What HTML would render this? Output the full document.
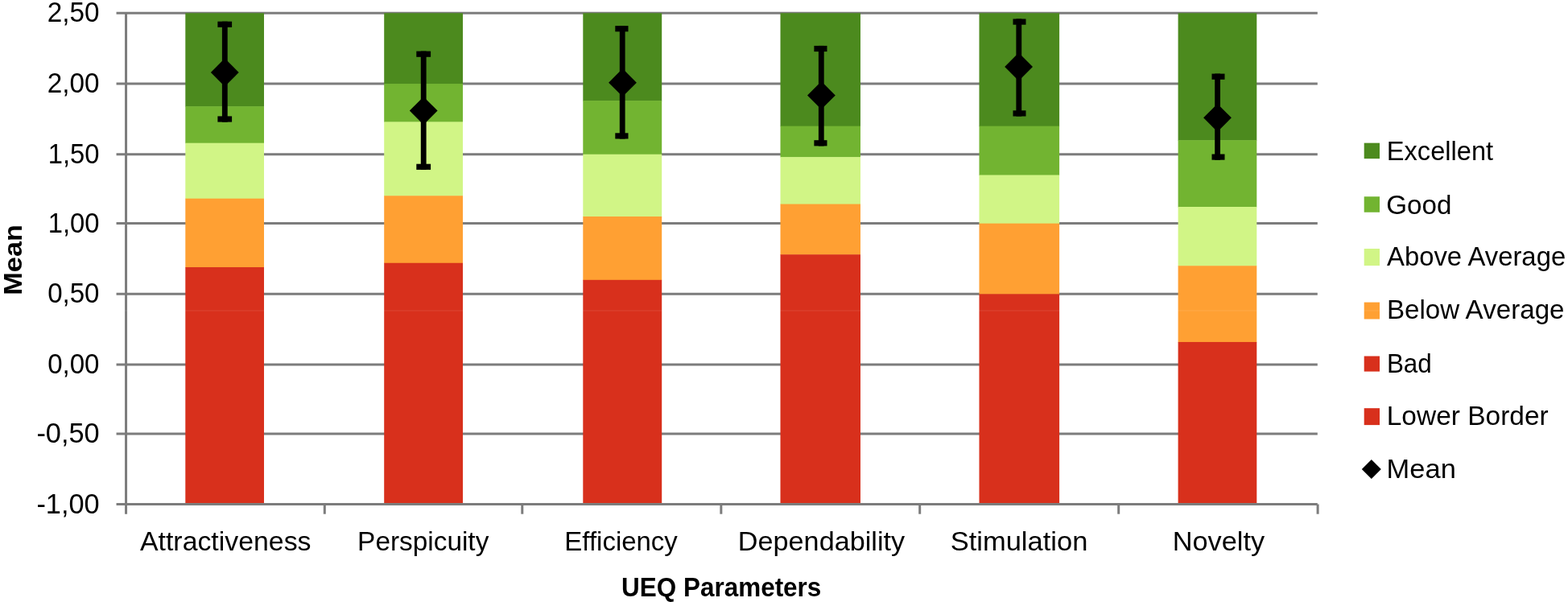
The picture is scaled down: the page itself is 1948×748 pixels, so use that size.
<!DOCTYPE html>
<html lang="en">
<head>
<meta charset="utf-8">
<title>UEQ Benchmark</title>
<style>
html,body{margin:0;padding:0;background:#fff;}
body{width:1948px;height:748px;overflow:hidden;}
svg{display:block;}
text{font-family:"Liberation Sans",sans-serif;font-size:33.0px;fill:#000;}
.b{font-weight:bold;}
.d{font-size:34.3px;}
.r{font-size:32px;}
</style>
</head>
<body>
<svg width="1948" height="748" viewBox="0 0 1948 748">
<rect x="0" y="0" width="1948" height="748" fill="#fff"/>
<g stroke="#7c7c7c" stroke-width="3.0" fill="none">
<line x1="144.55" y1="16.26" x2="1636.80" y2="16.26"/>
<line x1="144.55" y1="104.06" x2="1636.80" y2="104.06"/>
<line x1="144.55" y1="191.70" x2="1636.80" y2="191.70"/>
<line x1="144.55" y1="277.62" x2="1636.80" y2="277.62"/>
<line x1="144.55" y1="365.36" x2="1636.80" y2="365.36"/>
<line x1="144.55" y1="453.00" x2="1636.80" y2="453.00"/>
<line x1="144.55" y1="538.88" x2="1636.80" y2="538.88"/>
<line x1="144.55" y1="626.50" x2="1636.80" y2="626.50"/>
<line x1="156.55" y1="16.26" x2="156.55" y2="638.70"/>
<line x1="403.30" y1="626.50" x2="403.30" y2="638.70"/>
<line x1="648.80" y1="626.50" x2="648.80" y2="638.70"/>
<line x1="895.85" y1="626.50" x2="895.85" y2="638.70"/>
<line x1="1142.70" y1="626.50" x2="1142.70" y2="638.70"/>
<line x1="1389.70" y1="626.50" x2="1389.70" y2="638.70"/>
<line x1="1637.10" y1="626.50" x2="1637.10" y2="638.70"/>
</g>
<g>
<rect x="230.30" y="16.26" width="97.70" height="116.34" fill="#4C8A1E"/>
<rect x="230.30" y="132.10" width="97.70" height="46.07" fill="#72B431"/>
<rect x="230.30" y="177.68" width="97.70" height="69.51" fill="#D1F586"/>
<rect x="230.30" y="246.69" width="97.70" height="85.83" fill="#FFA033"/>
<rect x="230.30" y="332.02" width="97.70" height="292.98" fill="#D8301C"/>
<rect x="477.20" y="16.26" width="97.80" height="88.30" fill="#4C8A1E"/>
<rect x="477.20" y="104.06" width="97.80" height="47.83" fill="#72B431"/>
<rect x="477.20" y="151.39" width="97.80" height="92.37" fill="#D1F586"/>
<rect x="477.20" y="243.25" width="97.80" height="84.00" fill="#FFA033"/>
<rect x="477.20" y="326.75" width="97.80" height="298.25" fill="#D8301C"/>
<rect x="724.30" y="16.26" width="97.90" height="109.33" fill="#4C8A1E"/>
<rect x="724.30" y="125.09" width="97.90" height="67.11" fill="#72B431"/>
<rect x="724.30" y="191.70" width="97.90" height="77.83" fill="#D1F586"/>
<rect x="724.30" y="269.03" width="97.90" height="79.28" fill="#FFA033"/>
<rect x="724.30" y="347.81" width="97.90" height="277.19" fill="#D8301C"/>
<rect x="969.50" y="16.26" width="99.50" height="140.88" fill="#4C8A1E"/>
<rect x="969.50" y="156.64" width="99.50" height="38.99" fill="#72B431"/>
<rect x="969.50" y="195.14" width="99.50" height="58.93" fill="#D1F586"/>
<rect x="969.50" y="253.56" width="99.50" height="63.16" fill="#FFA033"/>
<rect x="969.50" y="316.23" width="99.50" height="308.77" fill="#D8301C"/>
<rect x="1216.50" y="16.26" width="99.60" height="140.88" fill="#4C8A1E"/>
<rect x="1216.50" y="156.64" width="99.60" height="61.33" fill="#72B431"/>
<rect x="1216.50" y="217.48" width="99.60" height="60.64" fill="#D1F586"/>
<rect x="1216.50" y="277.62" width="99.60" height="88.24" fill="#FFA033"/>
<rect x="1216.50" y="365.36" width="99.60" height="259.64" fill="#D8301C"/>
<rect x="1463.60" y="16.26" width="97.70" height="158.41" fill="#4C8A1E"/>
<rect x="1463.60" y="174.17" width="97.70" height="83.33" fill="#72B431"/>
<rect x="1463.60" y="257.00" width="97.70" height="73.76" fill="#D1F586"/>
<rect x="1463.60" y="330.26" width="97.70" height="95.19" fill="#FFA033"/>
<rect x="1463.60" y="424.96" width="97.70" height="200.04" fill="#D8301C"/>
</g>
<g fill="#000">
<rect x="275.90" y="26.70" width="6.80" height="124.90"/><rect x="270.40" y="26.70" width="17.70" height="7.2"/><rect x="270.40" y="144.40" width="17.70" height="7.2"/><polygon points="261.90,90.00 279.30,72.60 296.70,90.00 279.30,107.40"/>
<rect x="522.80" y="63.60" width="6.80" height="147.30"/><rect x="517.30" y="63.60" width="17.80" height="7.2"/><rect x="517.30" y="203.70" width="17.80" height="7.2"/><polygon points="508.80,137.60 526.20,120.20 543.60,137.60 526.20,155.00"/>
<rect x="769.80" y="32.10" width="6.80" height="140.40"/><rect x="764.30" y="32.10" width="16.20" height="7.2"/><rect x="764.30" y="165.30" width="16.20" height="7.2"/><polygon points="756.10,102.70 773.50,85.30 790.90,102.70 773.50,120.10"/>
<rect x="1016.90" y="56.90" width="6.80" height="124.50"/><rect x="1011.40" y="56.90" width="16.10" height="7.2"/><rect x="1011.40" y="174.20" width="16.10" height="7.2"/><polygon points="1003.00,118.40 1020.40,101.00 1037.80,118.40 1020.40,135.80"/>
<rect x="1262.40" y="23.50" width="6.80" height="121.00"/><rect x="1258.50" y="23.50" width="16.00" height="7.2"/><rect x="1258.50" y="137.30" width="16.00" height="7.2"/><polygon points="1248.20,83.00 1265.60,65.60 1283.00,83.00 1265.60,100.40"/>
<rect x="1509.20" y="91.60" width="6.80" height="107.10"/><rect x="1505.50" y="91.60" width="16.00" height="7.2"/><rect x="1505.50" y="191.50" width="16.00" height="7.2"/><polygon points="1495.10,146.30 1512.50,128.90 1529.90,146.30 1512.50,163.70"/>
</g>
<text x="58.84" y="27.36" textLength="64.67" lengthAdjust="spacingAndGlyphs" class="d">2,50</text>
<text x="58.84" y="115.16" textLength="64.67" lengthAdjust="spacingAndGlyphs" class="d">2,00</text>
<text x="59.78" y="202.80" textLength="63.71" lengthAdjust="spacingAndGlyphs" class="d">1,50</text>
<text x="59.78" y="288.72" textLength="63.71" lengthAdjust="spacingAndGlyphs" class="d">1,00</text>
<text x="59.18" y="376.46" textLength="64.33" lengthAdjust="spacingAndGlyphs" class="d">0,50</text>
<text x="59.18" y="464.10" textLength="64.33" lengthAdjust="spacingAndGlyphs" class="d">0,00</text>
<text x="45.43" y="549.98" textLength="78.22" lengthAdjust="spacingAndGlyphs" class="d">-0,50</text>
<text x="45.43" y="637.60" textLength="78.22" lengthAdjust="spacingAndGlyphs" class="d">-1,00</text>
<text x="174.00" y="684.40" textLength="212.46" lengthAdjust="spacingAndGlyphs">Attractiveness</text>
<text x="444.13" y="684.40" textLength="163.19" lengthAdjust="spacingAndGlyphs">Perspicuity</text>
<text x="701.36" y="684.40" textLength="140.48" lengthAdjust="spacingAndGlyphs">Efficiency</text>
<text x="916.86" y="684.40" textLength="207.23" lengthAdjust="spacingAndGlyphs">Dependability</text>
<text x="1180.67" y="684.40" textLength="170.73" lengthAdjust="spacingAndGlyphs">Stimulation</text>
<text x="1456.76" y="684.40" textLength="114.30" lengthAdjust="spacingAndGlyphs">Novelty</text>
<text x="772.11" y="740.60" textLength="248.24" lengthAdjust="spacingAndGlyphs" class="b">UEQ Parameters</text>
<text class="b r" transform="translate(26.7,366.70) rotate(-90)" x="0" y="0" textLength="87.67" lengthAdjust="spacingAndGlyphs">Mean</text>
<rect x="1694.7" y="177.65" width="19.3" height="19.50" fill="#4C8A1E"/><text x="1722.79" y="198.80" textLength="132.36" lengthAdjust="spacingAndGlyphs">Excellent</text>
<rect x="1694.7" y="244.25" width="19.3" height="19.50" fill="#72B431"/><text x="1722.24" y="265.70" textLength="81.16" lengthAdjust="spacingAndGlyphs">Good</text>
<rect x="1694.7" y="309.00" width="19.3" height="21.10" fill="#D1F586"/><text x="1723.00" y="330.10" textLength="222.17" lengthAdjust="spacingAndGlyphs">Above Average</text>
<rect x="1694.7" y="375.60" width="19.3" height="20.90" fill="#FFA033"/><text x="1722.95" y="396.20" textLength="220.58" lengthAdjust="spacingAndGlyphs">Below Average</text>
<rect x="1694.7" y="442.50" width="19.3" height="19.10" fill="#D8301C"/><text x="1722.89" y="463.20" textLength="55.89" lengthAdjust="spacingAndGlyphs">Bad</text>
<rect x="1694.7" y="507.20" width="19.3" height="20.90" fill="#D8301C"/><text x="1722.72" y="527.90" textLength="201.01" lengthAdjust="spacingAndGlyphs">Lower Border</text>
<polygon points="1691.8,583 1703.8,571 1715.8,583 1703.8,595" fill="#000"/><text x="1722.64" y="594.40" textLength="86.18" lengthAdjust="spacingAndGlyphs">Mean</text>
<rect x="0" y="385.3" width="1948" height="1.4" fill="#fff" fill-opacity="0.08"/>
</svg>
</body>
</html>
